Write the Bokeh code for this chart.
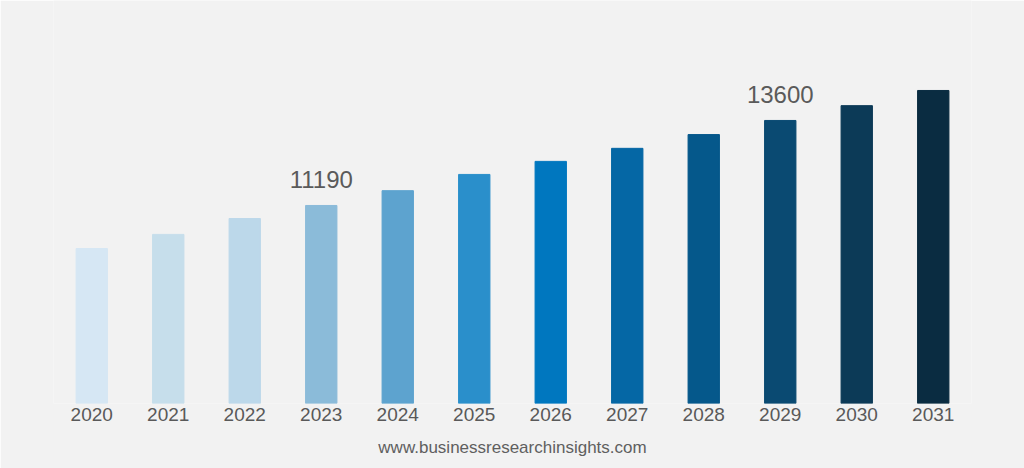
from bokeh.plotting import figure
from bokeh.models import ColumnDataSource, Range1d, Title
from bokeh.core.properties import value
from bokeh.embed import file_html
from bokeh.resources import INLINE

years = ["2020", "2021", "2022", "2023", "2024", "2025", "2026", "2027", "2028", "2029", "2030", "2031"]
values = [9970, 10370, 10820, 11190, 11610, 12070, 12440, 12810, 13200, 13600, 14020, 14450]
colors = ["#d6e7f4", "#c6deeb", "#bcd8ea", "#8bbbd9", "#5da3cf", "#2a8fcb", "#0077bf", "#0567a5",
          "#05588b", "#0a4a72", "#0c3a57", "#0a2c41"]
label_years = ["2023", "2029"]
label_values = [11190, 13600]
footer = "www.businessresearchinsights.com"

src = ColumnDataSource(dict(x=years, top=values, color=colors))
lab = ColumnDataSource(dict(x=label_years, y=label_values, t=[str(v) for v in label_values]))

p = figure(x_range=years, y_range=Range1d(5576, 17001), width=1024, height=468,
           output_backend="svg", toolbar_location=None,
           min_border_left=53, min_border_right=53, min_border_top=0, min_border_bottom=65,
           background_fill_color="#f2f2f2", border_fill_color="#f2f2f2", outline_line_color=None)

p.vbar(x="x", top="top", bottom=5576, width=0.41, color="color", source=src)
p.text(x="x", y="y", text="t", source=lab, text_align="center", text_baseline="bottom",
       y_offset=-17, text_font_size="24px", text_color="#5a5a5a",
       text_font=value("Liberation Sans"))

p.yaxis.visible = False
p.xgrid.visible = False
p.ygrid.visible = False
xa = p.xaxis[0]
xa.axis_line_color = None
xa.major_tick_line_color = None
xa.minor_tick_line_color = None
xa.major_label_standoff = -2
xa.major_label_text_font_size = "19px"
xa.major_label_text_color = "#595959"
xa.major_label_text_font = "Liberation Sans"

p.add_layout(Title(text=footer, align="center", text_font_size="17px", text_color="#5f5f5f",
                   text_font="Liberation Sans", text_font_style="normal", standoff=24), "below")

open("out.html", "w").write(file_html(p, INLINE))
